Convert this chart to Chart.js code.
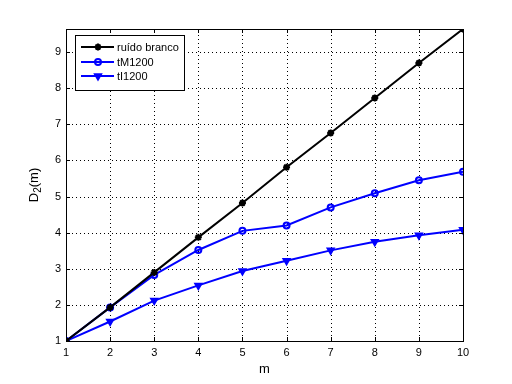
<!DOCTYPE html>
<html><head><meta charset="utf-8">
<script src="https://cdn.jsdelivr.net/npm/chart.js@4"></script>
<style>html,body{margin:0;padding:0;background:#fff}#wrap{width:512px;height:384px}</style>
</head><body><div id="wrap"><canvas id="c" width="512" height="384"></canvas></div>
<script>
const mValues = [1,2,3,4,5,6,7,8,9,10];
const ruidoBranco = [1.00,1.93,2.90,3.87,4.82,5.81,6.76,7.73,8.70,9.64];
const tM1200 = [1.00,1.93,2.83,3.52,4.05,4.20,4.70,5.09,5.45,5.69];
const tI1200 = [1.00,1.54,2.12,2.54,2.94,3.22,3.51,3.75,3.93,4.08];
const seriesNames = ['ruído branco','tM1200','tI1200'];
const yTicks = [1,2,3,4,5,6,7,8,9];
const xTicks = [1,2,3,4,5,6,7,8,9,10];

const FONT = '"Liberation Sans", Arial, sans-serif';

const styles = [
  {color:'#000000', pointStyle:'star', radius:3.5, fill:'#000000', rot:0},
  {color:'#0000ff', pointStyle:'circle', radius:3, fill:'rgba(0,0,0,0)', rot:0},
  {color:'#0000ff', pointStyle:'triangle', radius:3.5, fill:'#0000ff', rot:180}
];
const dataArr = [ruidoBranco, tM1200, tI1200];

const datasets = dataArr.map((d,i)=>({
  label: seriesNames[i],
  data: mValues.map((m,j)=>({x:m,y:d[j]})),
  borderColor: styles[i].color,
  backgroundColor: styles[i].fill,
  borderWidth: 2,
  pointStyle: styles[i].pointStyle,
  pointRadius: styles[i].radius,
  pointBorderWidth: 2,
  pointBackgroundColor: styles[i].fill,
  pointBorderColor: styles[i].color,
  pointRotation: styles[i].rot,
  tension: 0,
  fill: false
}));

const gridPlugin = {
  id:'dotgrid',
  beforeDatasetsDraw(chart){
    const {ctx, chartArea:a, scales:{x,y}} = chart;
    ctx.save();
    ctx.fillStyle='#000';
    xTicks.forEach(v=>{const px=Math.round(x.getPixelForValue(v));
      if(px<=a.left+1||px>=a.right-1) return;
      for(let py=Math.round(a.top)+2; py<a.bottom; py+=4) ctx.fillRect(px,py,1,1);});
    yTicks.forEach(v=>{const py=Math.round(y.getPixelForValue(v));
      if(py<=a.top+1||py>=a.bottom-1) return;
      for(let px=Math.round(a.left)+2; px<a.right; px+=4) ctx.fillRect(px,py,1,1);});
    ctx.restore();
  }
};

const boxPlugin = {
  id:'box',
  afterDatasetsDraw(chart){
    const {ctx, chartArea:a, scales:{x,y}} = chart;
    ctx.save();
    ctx.strokeStyle='#000'; ctx.lineWidth=1;
    ctx.strokeRect(Math.round(a.left)+0.5, Math.round(a.top)+0.5, Math.round(a.right-a.left), Math.round(a.bottom-a.top));
    ctx.beginPath();
    const tl = 4;
    xTicks.forEach(v=>{const px=Math.round(x.getPixelForValue(v))+0.5;
      ctx.moveTo(px,a.bottom); ctx.lineTo(px,a.bottom-tl);
      ctx.moveTo(px,a.top); ctx.lineTo(px,a.top+tl);});
    yTicks.forEach(v=>{const py=Math.round(y.getPixelForValue(v))+0.5;
      ctx.moveTo(a.left,py); ctx.lineTo(a.left+tl,py);
      ctx.moveTo(a.right,py); ctx.lineTo(a.right-tl,py);});
    ctx.stroke();

    // legend
    const lx=75, ly=35, lw=109, lh=55;
    ctx.fillStyle='#fff'; ctx.fillRect(lx,ly,lw,lh);
    ctx.strokeRect(lx+0.5,ly+0.5,lw,lh);
    const rows=[47,62,76];
    ctx.font='11px '+FONT; ctx.textBaseline='middle'; ctx.textAlign='left';
    seriesNames.forEach((n,i)=>{
      const s=styles[i];
      ctx.strokeStyle=s.color; ctx.lineWidth=2;
      ctx.beginPath(); ctx.moveTo(81,rows[i]); ctx.lineTo(114,rows[i]); ctx.stroke();
      ctx.fillStyle=s.fill; ctx.lineWidth=2;
      Chart.helpers.drawPoint(ctx,{pointStyle:s.pointStyle,radius:s.radius,rotation:s.rot,borderWidth:2},98,rows[i]);
      ctx.fillStyle='#000';
      ctx.fillText(n,117,rows[i]+1);
    });

    // axis labels
    ctx.fillStyle='#000';
    ctx.font='13px '+FONT; ctx.textAlign='center'; ctx.textBaseline='middle';
    ctx.fillText('m',(a.left+a.right)/2,369);
    ctx.save();
    ctx.translate(34,(a.top+a.bottom)/2);
    ctx.rotate(-Math.PI/2);
    ctx.textAlign='left';
    const w1=ctx.measureText('D').width;
    ctx.font='10px '+FONT; const w2=ctx.measureText('2').width;
    ctx.font='13px '+FONT; const w3=ctx.measureText('(m)').width;
    let sx=-(w1+w2+w3)/2;
    ctx.fillText('D',sx,0); sx+=w1;
    ctx.font='10px '+FONT; ctx.fillText('2',sx,4); sx+=w2;
    ctx.font='13px '+FONT; ctx.fillText('(m)',sx,0);
    ctx.restore();
    ctx.restore();
  }
};

new Chart(document.getElementById('c'),{
  type:'line',
  data:{datasets},
  options:{
    responsive:false, animation:false, devicePixelRatio:1,
    layout:{padding:{top:29,right:49,left:0,bottom:0}},
    plugins:{legend:{display:false},tooltip:{enabled:false}},
    scales:{
      x:{type:'linear',min:1,max:10,
        afterBuildTicks(s){s.ticks=xTicks.map(v=>({value:v}));},
        afterFit(s){s.height=43;},
        grid:{display:false,drawTicks:false},
        border:{display:false},
        ticks:{color:'#000',font:{family:FONT,size:11},padding:5,maxRotation:0}
      },
      y:{type:'linear',min:1,max:9.64,
        afterBuildTicks(s){s.ticks=yTicks.map(v=>({value:v}));},
        afterFit(s){s.width=66;},
        grid:{display:false,drawTicks:false},
        border:{display:false},
        ticks:{color:'#000',font:{family:FONT,size:11},padding:5}
      }
    }
  },
  plugins:[gridPlugin, boxPlugin]
});
</script></body></html>
